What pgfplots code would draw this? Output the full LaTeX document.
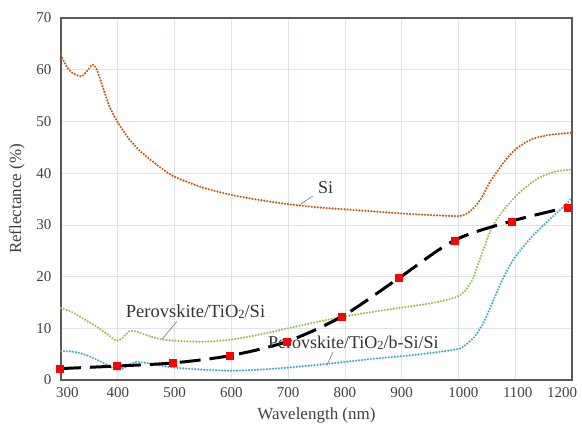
\documentclass[border=0pt]{standalone}
\usepackage{fontspec}
\setmainfont{Liberation Serif}
\usepackage{pgfplots}
\pgfplotsset{compat=1.18}
\definecolor{siC}{RGB}{197,90,17}
\definecolor{grC}{RGB}{150,192,80}
\definecolor{blC}{RGB}{70,170,200}
\definecolor{gridC}{RGB}{220,227,240}
\definecolor{txtC}{RGB}{64,64,64}
\newcommand{\sub}[1]{{\fontsize{12.5bp}{12.5bp}\selectfont\raisebox{-1.2bp}{#1}}}
\begin{document}
\begin{tikzpicture}
\begin{axis}[
  name=ax,
  scale only axis,
  width=511bp, height=362bp,
  xmin=300, xmax=1200, ymin=0, ymax=70,
  xtick={300,400,...,1200}, ytick={0,10,...,70},
  xticklabels={\rule{13bp}{0pt}300,400,500,600,700,800,900,\rule{10bp}{0pt}1000,\rule{5bp}{0pt}1100,1200\rule{20bp}{0pt}},
  grid=major,
  major grid style={draw=gridC, line width=0.7pt},
  major tick length=0pt,
  axis line style={draw=black!65, line width=1.3pt},
  /pgf/number format/assume math mode=true,
  /pgf/number format/1000 sep={},
  tick label style={font=\fontsize{15bp}{15bp}\selectfont, text=txtC},
  xticklabel style={yshift=-4bp},
  yticklabel style={xshift=-6bp},
  label style={font=\fontsize{17bp}{17bp}\selectfont, text=txtC},
  xlabel={Wavelength (nm)},
  ylabel={Reflectance (\%)},
  xlabel style={yshift=-3bp},
  ylabel style={yshift=5bp},
  clip=false,
]
% Perovskite/TiO2/b-Si/Si (blue)
\addplot[blC, line width=2.4pt, line cap=round, dash pattern=on 0pt off 3.0pt, smooth, tension=0.4] coordinates {
(300,5.6)(320,5.5)(340,5.0)(360,4.1)(380,3.0)(395,2.1)(405,2.0)(418,2.8)(432,3.5)(450,3.3)(475,2.8)(500,2.4)(550,2.0)(600,1.8)(650,2.0)(700,2.4)(750,2.9)(800,3.5)(850,4.1)(900,4.6)(950,5.2)(1000,6.0)(1015,7.0)(1030,8.6)(1045,11.3)(1060,15)(1080,20)(1100,23.8)(1130,27.8)(1160,31)(1180,33)(1200,35.2)};
% Perovskite/TiO2/Si (green)
\addplot[grC, line width=2.4pt, line cap=round, dash pattern=on 0pt off 3.0pt, smooth, tension=0.4] coordinates {
(300,13.9)(320,13.1)(340,11.8)(360,10.5)(380,9.0)(397,7.6)(408,8.1)(420,9.4)(432,9.4)(450,8.7)(475,7.9)(500,7.6)(550,7.4)(600,7.8)(650,8.8)(700,10.0)(750,11.2)(800,12.3)(850,13.2)(900,14.0)(950,14.8)(980,15.5)(1000,16.2)(1012,17.3)(1025,19.5)(1040,24)(1055,28.5)(1070,31.5)(1090,34.2)(1110,36.5)(1140,39)(1170,40.3)(1200,40.7)};
% Si (orange)
\addplot[siC, line width=2.4pt, line cap=round, dash pattern=on 0pt off 3.0pt, smooth, tension=0.4] coordinates {
(300,62.8)(310,60.6)(320,59.4)(335,58.7)(345,59.6)(355,61.0)(362,60.3)(372,57.2)(385,53.0)(400,49.8)(420,46.6)(440,44.2)(470,41.5)(500,39.3)(550,37.2)(600,35.8)(650,34.8)(700,34.0)(750,33.4)(800,33.0)(850,32.6)(900,32.2)(950,31.9)(1000,31.7)(1015,32.2)(1030,33.6)(1042,35.5)(1055,38.2)(1070,40.6)(1088,43.2)(1105,45.0)(1130,46.6)(1160,47.4)(1200,47.8)};
% dashed black
\addplot[black, line width=3pt, dash pattern=on 21bp off 9bp, smooth, tension=0.5] coordinates {
(298,2.2)(398,2.7)(497,3.3)(597,4.7)(697,7.4)(795,12.3)(895,19.7)(993,27.0)(1093,30.7)(1193,33.4)};
\addplot[only marks, mark=square*, mark size=3.5bp, mark options={draw=red, fill=red}] coordinates {
(298,2.2)(398,2.7)(497,3.3)(597,4.7)(697,7.4)(795,12.3)(895,19.7)(993,27.0)(1093,30.7)(1193,33.4)};
% annotations
\node[font=\fontsize{18bp}{18bp}\selectfont, text=black!80] at (axis cs:766,37.2) {Si};
\draw[black!55, line width=0.6pt] (axis cs:744,35.6) -- (axis cs:722,34.0);
\node[font=\fontsize{18.5bp}{18.5bp}\selectfont, text=black!80] at (axis cs:537,13.2) {Perovskite/TiO\sub{2}/Si};
\draw[black!55, line width=0.6pt] (axis cs:504,11.3) -- (axis cs:478,7.9);
\node[font=\fontsize{18bp}{18bp}\selectfont, text=black!80] at (axis cs:815,7.2) {Perovskite/TiO\sub{2}/b-Si/Si};
\draw[black!55, line width=0.6pt] (axis cs:779,5.4) -- (axis cs:768,2.8);
\end{axis}
\pgfresetboundingbox
\useasboundingbox (ax.south west) ++(-61bp,-44bp) rectangle ++(582bp,424bp);
\end{tikzpicture}
\end{document}
